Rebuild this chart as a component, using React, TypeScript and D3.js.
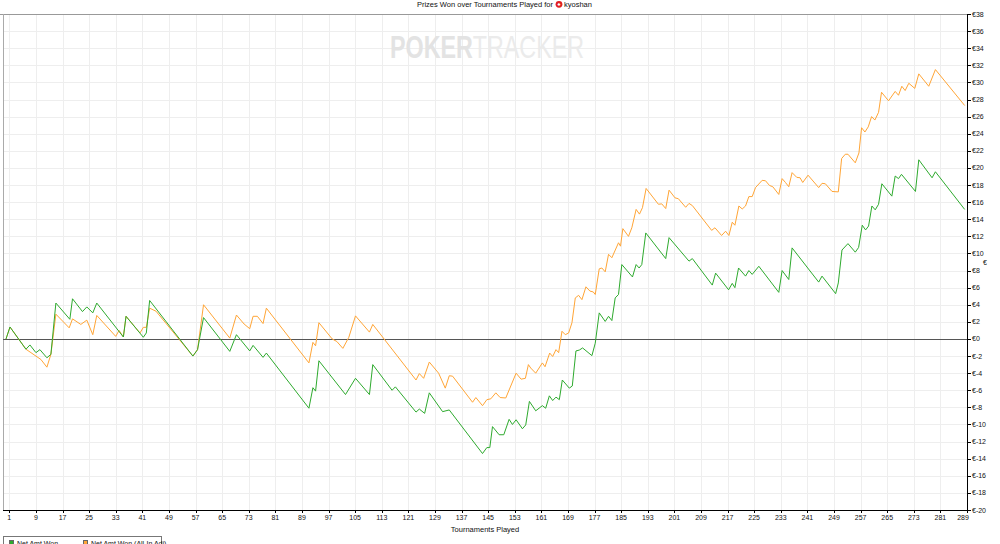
import { useEffect, useRef } from 'react';
import * as d3 from 'd3';

// [tournament, net amount] turning points
const netWon: [number, number][] = [
  [0, 0], [1.2, 1.4], [6, -1.2], [7.2, -0.7], [9, -1.6], [10.2, -1.25], [12.3, -2.2], [13.5, -1.8],
  [15, 4.2], [19.2, 2.3], [20, 4.7], [23, 3.2], [24.3, 3.75], [26.1, 3.05], [27.3, 4.2], [35.3, 0.23],
  [36.1, 2.65], [41.3, 0.2], [42.2, 0.7], [43.2, 4.5], [56.2, -2.0], [57.6, -1.25], [59.4, 2.5],
  [67.3, -1.45], [69.3, 0.5], [73.3, -1.4], [74.3, -0.75], [77.3, -2.15], [78.3, -1.65], [91.1, -8.1],
  [92.3, -5.7], [93.1, -6.1], [94.1, -2.55], [102.1, -6.5], [105.1, -4.6], [109.3, -6.5], [110.3, -3.0],
  [116.1, -6.0], [117.1, -5.6], [123.3, -8.55], [124.3, -8.2], [125.9, -8.7], [127.3, -6.3],
  [131.3, -8.5], [133.3, -8.3], [143.3, -13.4], [144.6, -12.7], [145.5, -12.7], [146.3, -10.25],
  [148.3, -11.2], [149.7, -11.2], [151.3, -9.4], [152.3, -10], [153.4, -9.45], [155.3, -10.5],
  [156.3, -10.05], [157.4, -7.3], [159.3, -8.4], [161.3, -7.8], [162.3, -8.1], [163.4, -6.65],
  [164.4, -7.2], [165.4, -6.8], [166.4, -7.1], [167.3, -4.8], [169.4, -5.75], [170.3, -5.5],
  [171.4, -1.4], [172.4, -1.3], [173.4, -1.05], [176.2, -1.95], [177.2, -0.5], [178.4, 3.05],
  [180.2, 2.05], [181.2, 2.65], [182.2, 2.15], [183.2, 4.8], [184.2, 5.2], [185.2, 8.7],
  [188.4, 7.25], [189.5, 8.7], [190.4, 8.3], [191.2, 8.7], [192.4, 12.4], [198.4, 9.4],
  [199.4, 11.85], [205.4, 9.1], [206.4, 9.4], [212.4, 6.3], [213.4, 7.7], [217.3, 5.75],
  [218.4, 6.5], [219.2, 6.0], [220.3, 8.3], [222.4, 7.35], [223.4, 8.0], [224.4, 7.55],
  [226.4, 8.5], [232.4, 5.45], [233.4, 8.0], [235.4, 6.95], [236.4, 10.65], [244.4, 6.65],
  [245.4, 7.35], [249.5, 5.3], [250.3, 6.55], [251.4, 10.4], [253.2, 11.15], [255.4, 10.15],
  [256.4, 10.7], [257.5, 13.3], [258.5, 12.75], [259.4, 13.2], [260.4, 15.55], [261.4, 15.1],
  [262.4, 15.75], [263.4, 18.15], [266.4, 16.7], [267.4, 19.05], [268.4, 18.75], [269.3, 19.25],
  [273.5, 17.25], [274.5, 20.95], [278.5, 18.85], [279.5, 19.55], [288.3, 15.15],
];

const netWonAdj: [number, number][] = [
  [0, 0], [1.2, 1.4], [6, -1.2], [7.5, -1.6], [10.5, -2.4], [12.3, -3.3], [13.5, -1.8], [15, 2.9],
  [19, 1.3], [20, 2.35], [22.5, 1.7], [24.3, 2.2], [26.1, 0.5], [27.3, 2.75], [33, 0.3], [34, 1.0],
  [35.3, 0.23], [36.1, 2.65], [40.3, 0.7], [41.3, 1.36], [42.2, 1.36], [43.2, 3.6], [45.1, 3.25],
  [56.2, -2.0], [57.6, -1.25], [59.4, 4.0], [67.3, 0.1], [69.3, 2.8], [71.6, 1.75], [73.3, 1.2],
  [74.3, 2.65], [75.6, 2.65], [77.3, 1.8], [78.3, 3.6], [91.1, -2.8], [92.3, -0.4], [93.1, -0.8],
  [94.1, 1.9], [98.1, 0], [99.5, -0.3], [101.3, -1.1], [103.1, 0.2], [105.1, 2.7], [109.3, 0.8],
  [110.3, 1.7], [123.3, -4.8], [124.3, -4.05], [125.6, -4.6], [127.3, -2.7], [130.1, -4.0],
  [132.1, -5.75], [133.3, -4.3], [134.3, -4.35], [140.3, -7.4], [141.3, -6.85], [143.3, -7.8],
  [144.6, -7.1], [145.8, -7.0], [147.3, -6.3], [148.6, -6.85], [150.3, -6.9], [153.4, -4.0],
  [154.9, -4.7], [156.2, -4.6], [157.1, -3.0], [157.8, -3.4], [159.3, -4.0], [161.3, -2.8],
  [162.1, -3.25], [163.5, -1.65], [164.4, -2.05], [165.4, -1.25], [166.2, -1.6], [167.2, 0.9],
  [168.2, 0.5], [169.2, 0.7], [170.2, 1.9], [171.2, 4.8], [172.2, 5.1], [173.2, 4.6], [174.4, 6.1],
  [175.6, 5.6], [176.6, 5.5], [177.2, 5.2], [178.4, 8.2], [179.2, 8.3], [180.2, 7.85], [181.2, 9.9],
  [182.2, 9.5], [184.2, 11.25], [184.8, 10.85], [185.5, 12.9], [187.2, 12.0], [188.2, 13.0],
  [189.5, 15.15], [190.5, 14.6], [191.4, 15.35], [192.5, 17.6], [196.2, 15.75], [197.2, 15.8],
  [198.4, 15.25], [199.4, 17.4], [201.2, 16.5], [202.2, 16.4], [204.4, 15.4], [205.4, 15.85],
  [206.4, 15.6], [212.2, 12.7], [213.2, 13.0], [215.2, 12.1], [216.4, 12.6], [217.4, 12.1],
  [218.4, 13.65], [219.2, 13.3], [220.4, 15.55], [221.4, 15.2], [222.4, 15.55], [223.4, 16.65],
  [224.4, 16.65], [225.4, 17.7], [227.4, 18.55], [228.4, 18.5], [229.6, 17.95], [230.6, 17.8],
  [232.4, 16.9], [233.4, 18.75], [234.4, 18.3], [235.4, 17.8], [236.4, 19.45], [237.8, 18.9],
  [238.8, 18.85], [239.6, 18.3], [241.2, 19.15], [244.4, 17.7], [245.4, 18.2], [246.4, 18.15],
  [248.4, 17.25], [250.3, 17.2], [251.3, 21.1], [252.4, 21.6], [253.2, 21.6], [255.4, 20.6],
  [256.5, 21.75], [257.3, 24.7], [258.3, 24.2], [259.3, 24.8], [260.3, 26.0], [261.3, 25.6],
  [262.4, 26.5], [263.3, 28.85], [265.4, 27.85], [267.4, 28.95], [268.4, 28.5], [269.4, 29.55],
  [270.4, 29.05], [271.5, 29.9], [273.3, 29.3], [274.5, 31.0], [277.5, 29.55], [279.5, 31.5],
  [288.3, 27.3],
];

const xTickLabels = [
  1, 9, 17, 25, 33, 41, 49, 57, 65, 73, 81, 89, 97, 105, 113, 121, 129, 137, 145, 153, 161, 169,
  177, 185, 193, 201, 209, 217, 225, 233, 241, 249, 257, 265, 273, 281, 289,
];
const yTickValues = [
  38, 36, 34, 32, 30, 28, 26, 24, 22, 20, 18, 16, 14, 12, 10, 8, 6, 4, 2, 0,
  -2, -4, -6, -8, -10, -12, -14, -16, -18, -20,
];
const seriesNames = ['Net Amt Won', 'Net Amt Won (All-In Adj)'];

const width = 1000;
const height = 544;
const font = '"Liberation Sans", Arial, sans-serif';

export default function App() {
  const svgRef = useRef<SVGSVGElement>(null);

  useEffect(() => {
    if (!svgRef.current) return;
    const svg = d3.select(svgRef.current);
    svg.selectAll('*').remove();

    const left = 3;
    const right = 967;
    const top = 14;
    const bottom = 510;

    const x = d3.scaleLinear().domain([0, 289]).range([6, right]);
    const y = d3.scaleLinear().domain([-20, 38]).range([bottom, top]);

    svg.append('rect').attr('width', width).attr('height', height).attr('fill', '#fff');

    // Grid
    svg.append('g')
      .selectAll('line')
      .data(yTickValues)
      .join('line')
      .attr('x1', left).attr('x2', right)
      .attr('y1', d => Math.round(y(d)) + 0.5).attr('y2', d => Math.round(y(d)) + 0.5)
      .attr('stroke', '#eeeeee');

    svg.append('g')
      .selectAll('line')
      .data(xTickLabels)
      .join('line')
      .attr('x1', d => Math.round(x(d)) + 0.5).attr('x2', d => Math.round(x(d)) + 0.5)
      .attr('y1', top).attr('y2', bottom)
      .attr('stroke', '#eeeeee');

    // Watermark
    const wm = svg.append('text')
      .attr('x', 390)
      .attr('y', 58)
      .attr('font-family', font)
      .attr('font-size', 31)
      .attr('textLength', 194)
      .attr('lengthAdjust', 'spacingAndGlyphs');
    wm.append('tspan').attr('font-weight', 'bold').attr('fill', '#e3e3e3').text('POKER');
    wm.append('tspan').attr('fill', '#ebebeb').text('TRACKER');

    // Frame
    svg.append('line')
      .attr('x1', 0).attr('x2', right).attr('y1', top + 0.5).attr('y2', top + 0.5)
      .attr('stroke', '#999');
    svg.append('line')
      .attr('x1', left + 0.5).attr('x2', left + 0.5).attr('y1', top).attr('y2', bottom)
      .attr('stroke', '#aaa');

    // Zero line
    svg.append('line')
      .attr('x1', left).attr('x2', right)
      .attr('y1', Math.round(y(0)) + 0.5).attr('y2', Math.round(y(0)) + 0.5)
      .attr('stroke', '#555');

    const line = d3.line<[number, number]>()
      .x(d => x(d[0]))
      .y(d => y(d[1]));

    svg.append('path')
      .datum(netWonAdj)
      .attr('d', line)
      .attr('fill', 'none')
      .attr('stroke', '#ffa536')
      .attr('stroke-width', 1);

    svg.append('path')
      .datum(netWon)
      .attr('d', line)
      .attr('fill', 'none')
      .attr('stroke', '#2eaa2e')
      .attr('stroke-width', 1);

    // Right axis
    svg.append('line')
      .attr('x1', right + 0.5).attr('x2', right + 0.5).attr('y1', top).attr('y2', bottom)
      .attr('stroke', '#000');
    const yAxis = svg.append('g');
    yAxis.selectAll('line')
      .data(yTickValues)
      .join('line')
      .attr('x1', right).attr('x2', right + 4)
      .attr('y1', d => Math.round(y(d)) + 0.5).attr('y2', d => Math.round(y(d)) + 0.5)
      .attr('stroke', '#000');
    yAxis.selectAll('text')
      .data(yTickValues)
      .join('text')
      .attr('x', right + 5)
      .attr('y', d => y(d) + 2.5)
      .attr('font-family', font)
      .attr('font-size', 7)
      .attr('fill', '#111')
      .text(d => `€${d}`);

    svg.append('text')
      .attr('x', 983)
      .attr('y', 265)
      .attr('font-family', font)
      .attr('font-size', 7)
      .attr('fill', '#111')
      .text('€');

    // Bottom axis
    svg.append('line')
      .attr('x1', left).attr('x2', right).attr('y1', bottom + 0.5).attr('y2', bottom + 0.5)
      .attr('stroke', '#000');
    const xAxis = svg.append('g');
    xAxis.selectAll('line')
      .data(xTickLabels)
      .join('line')
      .attr('x1', d => Math.round(x(d)) + 0.5).attr('x2', d => Math.round(x(d)) + 0.5)
      .attr('y1', bottom).attr('y2', bottom + 3)
      .attr('stroke', '#000');
    xAxis.selectAll('text')
      .data(xTickLabels)
      .join('text')
      .attr('x', d => Math.min(x(d), 963))
      .attr('y', 520)
      .attr('text-anchor', 'middle')
      .attr('font-family', font)
      .attr('font-size', 7)
      .attr('fill', '#111')
      .text(d => d);

    svg.append('text')
      .attr('x', (left + right) / 2)
      .attr('y', 532)
      .attr('text-anchor', 'middle')
      .attr('font-family', font)
      .attr('font-size', 7.5)
      .attr('fill', '#111')
      .text('Tournaments Played');

    // Title
    svg.append('text')
      .attr('x', 553)
      .attr('y', 7)
      .attr('text-anchor', 'end')
      .attr('font-family', font)
      .attr('font-size', 7.5)
      .attr('fill', '#111')
      .text('Prizes Won over Tournaments Played for');
    svg.append('circle').attr('cx', 559).attr('cy', 4.3).attr('r', 3.4).attr('fill', '#e02020');
    svg.append('text')
      .attr('x', 559)
      .attr('y', 6.3)
      .attr('text-anchor', 'middle')
      .attr('font-family', font)
      .attr('font-size', 5.5)
      .attr('fill', '#fff')
      .text('♠');
    svg.append('text')
      .attr('x', 564)
      .attr('y', 7)
      .attr('font-family', font)
      .attr('font-size', 7.5)
      .attr('fill', '#111')
      .text('kyoshan');

    // Legend (cut off at the bottom edge)
    svg.append('rect')
      .attr('x', left + 0.5).attr('y', 536.5)
      .attr('width', 158).attr('height', 20)
      .attr('fill', '#fff').attr('stroke', '#777');
    const legendX = [9, 83];
    const legendColors = ['#2eaa2e', '#ffa536'];
    seriesNames.forEach((name, i) => {
      svg.append('rect')
        .attr('x', legendX[i] + 0.5).attr('y', 540.5)
        .attr('width', 4).attr('height', 4)
        .attr('fill', legendColors[i]).attr('stroke', '#666');
      svg.append('text')
        .attr('x', legendX[i] + 8)
        .attr('y', 546)
        .attr('font-family', font)
        .attr('font-size', 7)
        .attr('fill', '#111')
        .text(name);
    });
  }, []);

  return (
    <svg
      ref={svgRef}
      width={width}
      height={height}
      style={{ position: 'absolute', left: 0, top: 0, display: 'block' }}
    />
  );
}
